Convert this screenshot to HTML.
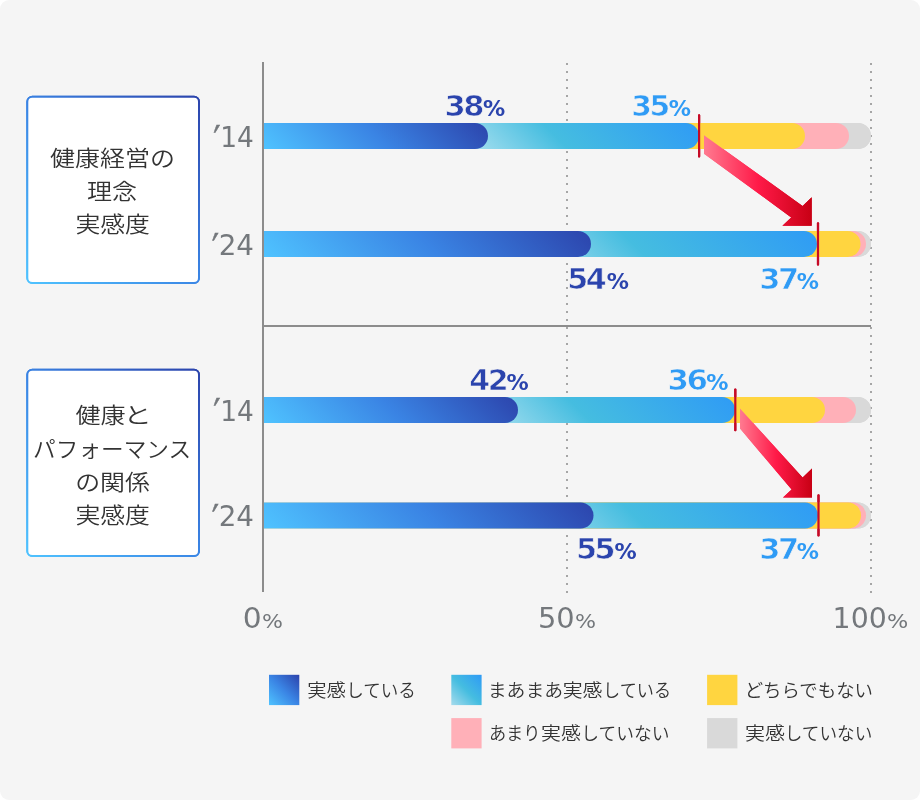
<!DOCTYPE html>
<html lang="ja">
<head>
<meta charset="utf-8">
<title>健康経営 実感度</title>
<style>
html,body{margin:0;padding:0;background:#fff;}
.chart{position:relative;width:920px;height:800px;background:#f5f5f5;border-radius:9px;overflow:hidden;}
svg{display:block;}
.b{font-family:"DejaVu Sans","Liberation Sans",sans-serif;font-weight:bold;}
.r{font-family:"DejaVu Sans","Liberation Sans",sans-serif;font-weight:normal;}
.j{font-family:"Liberation Sans","Noto Sans CJK JP",sans-serif;font-weight:350;fill:#333;}
</style>
</head>
<body>
<div class="chart">
<svg width="920" height="800" viewBox="0 0 920 800">
<defs>
<linearGradient id="gd0" gradientUnits="userSpaceOnUse" x1="264" y1="149" x2="389" y2="24"><stop offset="0" stop-color="#4fc3ff"/><stop offset="0.5" stop-color="#3a84e4"/><stop offset="1" stop-color="#2c44ac"/></linearGradient>
<linearGradient id="gl0" gradientUnits="userSpaceOnUse" x1="264" y1="149" x2="494.5" y2="-81.5"><stop offset="0" stop-color="#ffffff"/><stop offset="0.33" stop-color="#dcf2f7"/><stop offset="0.66" stop-color="#45bde0"/><stop offset="1" stop-color="#2f9bf5"/></linearGradient>
<linearGradient id="gd1" gradientUnits="userSpaceOnUse" x1="264" y1="257" x2="440.5" y2="80.5"><stop offset="0" stop-color="#4fc3ff"/><stop offset="0.5" stop-color="#3a84e4"/><stop offset="1" stop-color="#2c44ac"/></linearGradient>
<linearGradient id="gl1" gradientUnits="userSpaceOnUse" x1="264" y1="257" x2="553.5" y2="-32.5"><stop offset="0" stop-color="#ffffff"/><stop offset="0.33" stop-color="#dcf2f7"/><stop offset="0.66" stop-color="#45bde0"/><stop offset="1" stop-color="#2f9bf5"/></linearGradient>
<linearGradient id="gd2" gradientUnits="userSpaceOnUse" x1="264" y1="423" x2="404" y2="283"><stop offset="0" stop-color="#4fc3ff"/><stop offset="0.5" stop-color="#3a84e4"/><stop offset="1" stop-color="#2c44ac"/></linearGradient>
<linearGradient id="gl2" gradientUnits="userSpaceOnUse" x1="264" y1="423" x2="512.5" y2="174.5"><stop offset="0" stop-color="#ffffff"/><stop offset="0.33" stop-color="#dcf2f7"/><stop offset="0.66" stop-color="#45bde0"/><stop offset="1" stop-color="#2f9bf5"/></linearGradient>
<linearGradient id="gd3" gradientUnits="userSpaceOnUse" x1="264" y1="528.5" x2="441.8" y2="350.8"><stop offset="0" stop-color="#4fc3ff"/><stop offset="0.5" stop-color="#3a84e4"/><stop offset="1" stop-color="#2c44ac"/></linearGradient>
<linearGradient id="gl3" gradientUnits="userSpaceOnUse" x1="264" y1="528.5" x2="554" y2="238.5"><stop offset="0" stop-color="#ffffff"/><stop offset="0.33" stop-color="#dcf2f7"/><stop offset="0.66" stop-color="#45bde0"/><stop offset="1" stop-color="#2f9bf5"/></linearGradient>
<linearGradient id="gdL" gradientUnits="userSpaceOnUse" x1="269" y1="705" x2="299" y2="675"><stop offset="0" stop-color="#4fc3ff"/><stop offset="0.5" stop-color="#3a84e4"/><stop offset="1" stop-color="#2c44ac"/></linearGradient>
<linearGradient id="glL" gradientUnits="userSpaceOnUse" x1="451" y1="705" x2="481" y2="675"><stop offset="0" stop-color="#a6dbec"/><stop offset="0.5" stop-color="#45bde0"/><stop offset="1" stop-color="#2f9bf5"/></linearGradient>
<linearGradient id="gb1" gradientUnits="userSpaceOnUse" x1="27" y1="284" x2="207" y2="104"><stop offset="0" stop-color="#4fc3ff"/><stop offset="0.5" stop-color="#3a84e4"/><stop offset="1" stop-color="#2c44ac"/></linearGradient>
<linearGradient id="gb2" gradientUnits="userSpaceOnUse" x1="27" y1="557" x2="207" y2="377"><stop offset="0" stop-color="#4fc3ff"/><stop offset="0.5" stop-color="#3a84e4"/><stop offset="1" stop-color="#2c44ac"/></linearGradient>
<linearGradient id="ga1" gradientUnits="userSpaceOnUse" x1="704" y1="0" x2="812" y2="0"><stop offset="0" stop-color="#ff7a90"/><stop offset="0.5" stop-color="#ff1a48"/><stop offset="1" stop-color="#c80014"/></linearGradient>
<linearGradient id="ga2" gradientUnits="userSpaceOnUse" x1="740" y1="0" x2="812" y2="0"><stop offset="0" stop-color="#ff7a90"/><stop offset="0.5" stop-color="#ff1a48"/><stop offset="1" stop-color="#c80014"/></linearGradient>
<linearGradient id="gdL" gradientUnits="userSpaceOnUse" x1="269" y1="705" x2="299" y2="675"><stop offset="0" stop-color="#4fc3ff"/><stop offset="0.5" stop-color="#3a84e4"/><stop offset="1" stop-color="#2c44ac"/></linearGradient>
<linearGradient id="glL" gradientUnits="userSpaceOnUse" x1="451" y1="705" x2="481" y2="675"><stop offset="0" stop-color="#a6dbec"/><stop offset="0.5" stop-color="#45bde0"/><stop offset="1" stop-color="#2f9bf5"/></linearGradient>
<linearGradient id="gb1" gradientUnits="userSpaceOnUse" x1="27" y1="284" x2="207" y2="104"><stop offset="0" stop-color="#4fc3ff"/><stop offset="0.5" stop-color="#3a84e4"/><stop offset="1" stop-color="#2c44ac"/></linearGradient>
<linearGradient id="gb2" gradientUnits="userSpaceOnUse" x1="27" y1="557" x2="207" y2="377"><stop offset="0" stop-color="#4fc3ff"/><stop offset="0.5" stop-color="#3a84e4"/><stop offset="1" stop-color="#2c44ac"/></linearGradient>
<linearGradient id="ga1" gradientUnits="userSpaceOnUse" x1="704" y1="0" x2="812" y2="0"><stop offset="0" stop-color="#ff7a90"/><stop offset="0.5" stop-color="#ff1a48"/><stop offset="1" stop-color="#c80014"/></linearGradient>
<linearGradient id="ga2" gradientUnits="userSpaceOnUse" x1="740" y1="0" x2="812" y2="0"><stop offset="0" stop-color="#ff7a90"/><stop offset="0.5" stop-color="#ff1a48"/><stop offset="1" stop-color="#c80014"/></linearGradient>
</defs>
<g fill="#8c8c8c"><rect x="262" y="62" width="2" height="530"/><rect x="264" y="325" width="607" height="2"/></g>
<g stroke="#a6a6a6" stroke-width="2" stroke-dasharray="2 6"><path d="M567 63V594"/><path d="M871 63V594"/></g>
<rect x="27.3" y="96.7" width="171.7" height="186.3" rx="5" fill="#fff" stroke="url(#gb1)" stroke-width="2"/>
<rect x="27.3" y="369.7" width="171.7" height="186.3" rx="5" fill="#fff" stroke="url(#gb2)" stroke-width="2"/>
<path d="M264 123H858a13.0 13.0 0 0 1 0 26H264z" fill="#d9d9d9"/>
<path d="M264 123H836a13.0 13.0 0 0 1 0 26H264z" fill="#ffb0b8"/>
<path d="M264 123H792a13.0 13.0 0 0 1 0 26H264z" fill="#ffd540"/>
<path d="M264 123H686a13.0 13.0 0 0 1 0 26H264z" fill="url(#gl0)"/>
<path d="M264 123H475a13.0 13.0 0 0 1 0 26H264z" fill="url(#gd0)"/>
<path d="M264 231H858a13.0 13.0 0 0 1 0 26H264z" fill="#d9d9d9"/>
<path d="M264 231H853a13.0 13.0 0 0 1 0 26H264z" fill="#ffb0b8"/>
<path d="M264 231H847.5a13.0 13.0 0 0 1 0 26H264z" fill="#ffd540"/>
<path d="M264 231H804a13.0 13.0 0 0 1 0 26H264z" fill="url(#gl1)"/>
<path d="M264 231H578a13.0 13.0 0 0 1 0 26H264z" fill="url(#gd1)"/>
<path d="M264 397H858a13.0 13.0 0 0 1 0 26H264z" fill="#d9d9d9"/>
<path d="M264 397H843a13.0 13.0 0 0 1 0 26H264z" fill="#ffb0b8"/>
<path d="M264 397H812a13.0 13.0 0 0 1 0 26H264z" fill="#ffd540"/>
<path d="M264 397H722a13.0 13.0 0 0 1 0 26H264z" fill="url(#gl2)"/>
<path d="M264 397H505a13.0 13.0 0 0 1 0 26H264z" fill="url(#gd2)"/>
<path d="M264 502.5H858a13.0 13.0 0 0 1 0 26H264z" fill="#d9d9d9"/>
<path d="M264 502.5H853a13.0 13.0 0 0 1 0 26H264z" fill="#ffb0b8"/>
<path d="M264 502.5H848a13.0 13.0 0 0 1 0 26H264z" fill="#ffd540"/>
<path d="M264 502.5H805a13.0 13.0 0 0 1 0 26H264z" fill="url(#gl3)"/>
<path d="M264 502.5H580.5a13.0 13.0 0 0 1 0 26H264z" fill="url(#gd3)"/>
<g stroke="#c60a26" stroke-width="2.2" stroke-linecap="round"><path d="M699.1 115.4V156.4"/><path d="M818 223.4V264.6"/><path d="M735.3 389.6V430.2"/><path d="M818.5 495.4V535.4"/></g>
<path fill="url(#ga1)" d="M704 135.2L802.6 206L811.7 197.2V225.8H782.4L791.2 217.4L704 153.8z"/>
<path fill="url(#ga2)" d="M740 408.6L802.6 477.4L812 468.6V497.6H783L791.6 489.6L740 428.6z"/>
<g fill="#8c8c8c"><rect x="262" y="62" width="2" height="530"/><rect x="264" y="325" width="607" height="2"/></g>
<g stroke="#a6a6a6" stroke-width="2" stroke-dasharray="2 6"><path d="M567 63V594"/><path d="M871 63V594"/></g>
<rect x="27.3" y="96.7" width="171.7" height="186.3" rx="5" fill="#fff" stroke="url(#gb1)" stroke-width="2"/>
<rect x="27.3" y="369.7" width="171.7" height="186.3" rx="5" fill="#fff" stroke="url(#gb2)" stroke-width="2"/>
<path d="M264 123H858a13.0 13.0 0 0 1 0 26H264z" fill="#d9d9d9"/>
<path d="M264 123H836a13.0 13.0 0 0 1 0 26H264z" fill="#ffb0b8"/>
<path d="M264 123H792a13.0 13.0 0 0 1 0 26H264z" fill="#ffd540"/>
<path d="M264 123H686a13.0 13.0 0 0 1 0 26H264z" fill="url(#gl0)"/>
<path d="M264 123H475a13.0 13.0 0 0 1 0 26H264z" fill="url(#gd0)"/>
<path d="M264 231H858a13.0 13.0 0 0 1 0 26H264z" fill="#d9d9d9"/>
<path d="M264 231H853a13.0 13.0 0 0 1 0 26H264z" fill="#ffb0b8"/>
<path d="M264 231H847.5a13.0 13.0 0 0 1 0 26H264z" fill="#ffd540"/>
<path d="M264 231H804a13.0 13.0 0 0 1 0 26H264z" fill="url(#gl1)"/>
<path d="M264 231H578a13.0 13.0 0 0 1 0 26H264z" fill="url(#gd1)"/>
<path d="M264 397H858a13.0 13.0 0 0 1 0 26H264z" fill="#d9d9d9"/>
<path d="M264 397H843a13.0 13.0 0 0 1 0 26H264z" fill="#ffb0b8"/>
<path d="M264 397H812a13.0 13.0 0 0 1 0 26H264z" fill="#ffd540"/>
<path d="M264 397H722a13.0 13.0 0 0 1 0 26H264z" fill="url(#gl2)"/>
<path d="M264 397H505a13.0 13.0 0 0 1 0 26H264z" fill="url(#gd2)"/>
<path d="M264 502.5H858a13.0 13.0 0 0 1 0 26H264z" fill="#d9d9d9"/>
<path d="M264 502.5H853a13.0 13.0 0 0 1 0 26H264z" fill="#ffb0b8"/>
<path d="M264 502.5H848a13.0 13.0 0 0 1 0 26H264z" fill="#ffd540"/>
<path d="M264 502.5H805a13.0 13.0 0 0 1 0 26H264z" fill="url(#gl3)"/>
<path d="M264 502.5H580.5a13.0 13.0 0 0 1 0 26H264z" fill="url(#gd3)"/>
<g stroke="#c60a26" stroke-width="2.2" stroke-linecap="round"><path d="M699.1 115.4V156.4"/><path d="M818 223.4V264.6"/><path d="M735.3 389.6V430.2"/><path d="M818.5 495.4V535.4"/></g>
<path fill="url(#ga1)" d="M704 135.2L802.6 206L811.7 197.2V225.8H782.4L791.2 217.4L704 153.8z"/>
<path fill="url(#ga2)" d="M740 408.6L802.6 477.4L812 468.6V497.6H783L791.6 489.6L740 428.6z"/>
<rect x="269" y="674.8" width="30.3" height="30.3" fill="url(#gdL)"/>
<rect x="451.3" y="674.8" width="30.3" height="30.3" fill="url(#glL)"/>
<rect x="707.1" y="674.8" width="30.3" height="30.3" fill="#ffd540"/>
<rect x="451.3" y="718.1" width="30.3" height="30.3" fill="#ffb0b8"/>
<rect x="707.1" y="718.1" width="30.3" height="30.3" fill="#d9d9d9"/>
<text class="b" fill="#2b44ad"><tspan x="444.50" y="115.9" font-size="28.9" letter-spacing="-2.4" textLength="37.50" lengthAdjust="spacingAndGlyphs" stroke="#f5f5f5" stroke-width="0.7">38</tspan><tspan x="483.09" y="115.6" font-size="20.5" textLength="22.22" lengthAdjust="spacingAndGlyphs">%</tspan></text>
<text class="b" fill="#2f9bf5"><tspan x="631.26" y="115.9" font-size="28.9" letter-spacing="-2.4" textLength="36.50" lengthAdjust="spacingAndGlyphs" stroke="#f5f5f5" stroke-width="0.7">35</tspan><tspan x="668.89" y="115.6" font-size="20.5" textLength="22.22" lengthAdjust="spacingAndGlyphs">%</tspan></text>
<text class="b" fill="#2b44ad"><tspan x="567.23" y="289" font-size="28.9" letter-spacing="-2.4" textLength="36.90" lengthAdjust="spacingAndGlyphs" stroke="#f5f5f5" stroke-width="0.7">54</tspan><tspan x="606.69" y="288.6" font-size="20.5" textLength="22.22" lengthAdjust="spacingAndGlyphs">%</tspan></text>
<text class="b" fill="#2f9bf5"><tspan x="759.31" y="289" font-size="28.9" letter-spacing="-2.4" textLength="37.44" lengthAdjust="spacingAndGlyphs" stroke="#f5f5f5" stroke-width="0.7">37</tspan><tspan x="796.79" y="288.6" font-size="20.5" textLength="22.22" lengthAdjust="spacingAndGlyphs">%</tspan></text>
<text class="b" fill="#2b44ad"><tspan x="469.30" y="390.2" font-size="28.9" letter-spacing="-2.4" textLength="36.87" lengthAdjust="spacingAndGlyphs" stroke="#f5f5f5" stroke-width="0.7">42</tspan><tspan x="506.49" y="389.8" font-size="20.5" textLength="22.22" lengthAdjust="spacingAndGlyphs">%</tspan></text>
<text class="b" fill="#2f9bf5"><tspan x="667.58" y="390.2" font-size="28.9" letter-spacing="-2.4" textLength="37.86" lengthAdjust="spacingAndGlyphs" stroke="#f5f5f5" stroke-width="0.7">36</tspan><tspan x="706.19" y="389.8" font-size="20.5" textLength="22.22" lengthAdjust="spacingAndGlyphs">%</tspan></text>
<text class="b" fill="#2b44ad"><tspan x="575.92" y="559.1" font-size="28.9" letter-spacing="-2.4" textLength="37.03" lengthAdjust="spacingAndGlyphs" stroke="#f5f5f5" stroke-width="0.7">55</tspan><tspan x="614.49" y="558.8" font-size="20.5" textLength="22.22" lengthAdjust="spacingAndGlyphs">%</tspan></text>
<text class="b" fill="#2f9bf5"><tspan x="759.31" y="559.1" font-size="28.9" letter-spacing="-2.4" textLength="37.44" lengthAdjust="spacingAndGlyphs" stroke="#f5f5f5" stroke-width="0.7">37</tspan><tspan x="796.79" y="558.8" font-size="20.5" textLength="22.22" lengthAdjust="spacingAndGlyphs">%</tspan></text>
<text class="r" fill="#74787c"><tspan x="213.27" y="154.7" font-size="40" textLength="7.30" lengthAdjust="spacingAndGlyphs" stroke="#74787c" stroke-width="0.5">′</tspan><tspan x="220.30" y="147.1" font-size="29" textLength="33.58" lengthAdjust="spacingAndGlyphs">14</tspan></text>
<text class="r" fill="#74787c"><tspan x="211.77" y="262.5" font-size="40" textLength="7.30" lengthAdjust="spacingAndGlyphs" stroke="#74787c" stroke-width="0.5">′</tspan><tspan x="218.67" y="254.9" font-size="29" textLength="35.29" lengthAdjust="spacingAndGlyphs">24</tspan></text>
<text class="r" fill="#74787c"><tspan x="213.27" y="428.4" font-size="40" textLength="7.30" lengthAdjust="spacingAndGlyphs" stroke="#74787c" stroke-width="0.5">′</tspan><tspan x="220.30" y="420.8" font-size="29" textLength="33.58" lengthAdjust="spacingAndGlyphs">14</tspan></text>
<text class="r" fill="#74787c"><tspan x="211.77" y="533.6" font-size="40" textLength="7.30" lengthAdjust="spacingAndGlyphs" stroke="#74787c" stroke-width="0.5">′</tspan><tspan x="218.67" y="526" font-size="29" textLength="35.29" lengthAdjust="spacingAndGlyphs">24</tspan></text>
<text class="r" fill="#74787c"><tspan x="242.74" y="628" font-size="28.5" textLength="18.94" lengthAdjust="spacingAndGlyphs">0</tspan><tspan x="262.08" y="628" font-size="20" textLength="20.93" lengthAdjust="spacingAndGlyphs">%</tspan></text>
<text class="r" fill="#74787c"><tspan x="537.97" y="628" font-size="28.5" textLength="36.75" lengthAdjust="spacingAndGlyphs">50</tspan><tspan x="575.08" y="628" font-size="20" textLength="21.04" lengthAdjust="spacingAndGlyphs">%</tspan></text>
<text class="r" fill="#74787c"><tspan x="832.58" y="628" font-size="28.5" textLength="54.21" lengthAdjust="spacingAndGlyphs">100</tspan><tspan x="886.96" y="628" font-size="20" textLength="21.27" lengthAdjust="spacingAndGlyphs">%</tspan></text>
<text class="j" x="50.1" y="165.8" font-size="22" textLength="124.9" lengthAdjust="spacingAndGlyphs">健康経営の</text>
<text class="j" x="87" y="199" font-size="22" textLength="50.1" lengthAdjust="spacingAndGlyphs">理念</text>
<text class="j" x="75.4" y="232.3" font-size="22" textLength="74.6" lengthAdjust="spacingAndGlyphs">実感度</text>
<text class="j" x="75.4" y="423.4" font-size="22" textLength="50.2" lengthAdjust="spacingAndGlyphs">健康</text>
<text class="j" x="123.4" y="423.4" font-size="22" textLength="28.3" lengthAdjust="spacingAndGlyphs">と</text>
<text class="j" x="33.1" y="457" font-size="22" textLength="158.1" lengthAdjust="spacingAndGlyphs">パフォーマンス</text>
<text class="j" x="75.2" y="489.9" font-size="22" textLength="74.8" lengthAdjust="spacingAndGlyphs">の関係</text>
<text class="j" x="75.4" y="523.1" font-size="22" textLength="74.6" lengthAdjust="spacingAndGlyphs">実感度</text>
<text class="j" font-size="18"><tspan x="307.2" y="696.5" textLength="38.6" lengthAdjust="spacingAndGlyphs">実感</tspan><tspan x="346.3" y="696.5" textLength="69.6" lengthAdjust="spacingAndGlyphs">している</tspan></text>
<text class="j" font-size="18"><tspan x="487.8" y="696.5" textLength="75.3" lengthAdjust="spacingAndGlyphs">まあまあ</tspan><tspan x="562.7" y="696.5" textLength="39.8" lengthAdjust="spacingAndGlyphs">実感</tspan><tspan x="603.1" y="696.5" textLength="68" lengthAdjust="spacingAndGlyphs">している</tspan></text>
<text class="j" font-size="18"><tspan x="744.7" y="696.5" textLength="128.3" lengthAdjust="spacingAndGlyphs">どちらでもない</tspan></text>
<text class="j" font-size="18"><tspan x="488.9" y="740" textLength="51.5" lengthAdjust="spacingAndGlyphs">あまり</tspan><tspan x="541" y="740" textLength="39.8" lengthAdjust="spacingAndGlyphs">実感</tspan><tspan x="581.3" y="740" textLength="88.2" lengthAdjust="spacingAndGlyphs">していない</tspan></text>
<text class="j" font-size="18"><tspan x="745" y="740" textLength="39.9" lengthAdjust="spacingAndGlyphs">実感</tspan><tspan x="784.7" y="740" textLength="87.6" lengthAdjust="spacingAndGlyphs">していない</tspan></text>
</svg>
</div>
</body>
</html>
